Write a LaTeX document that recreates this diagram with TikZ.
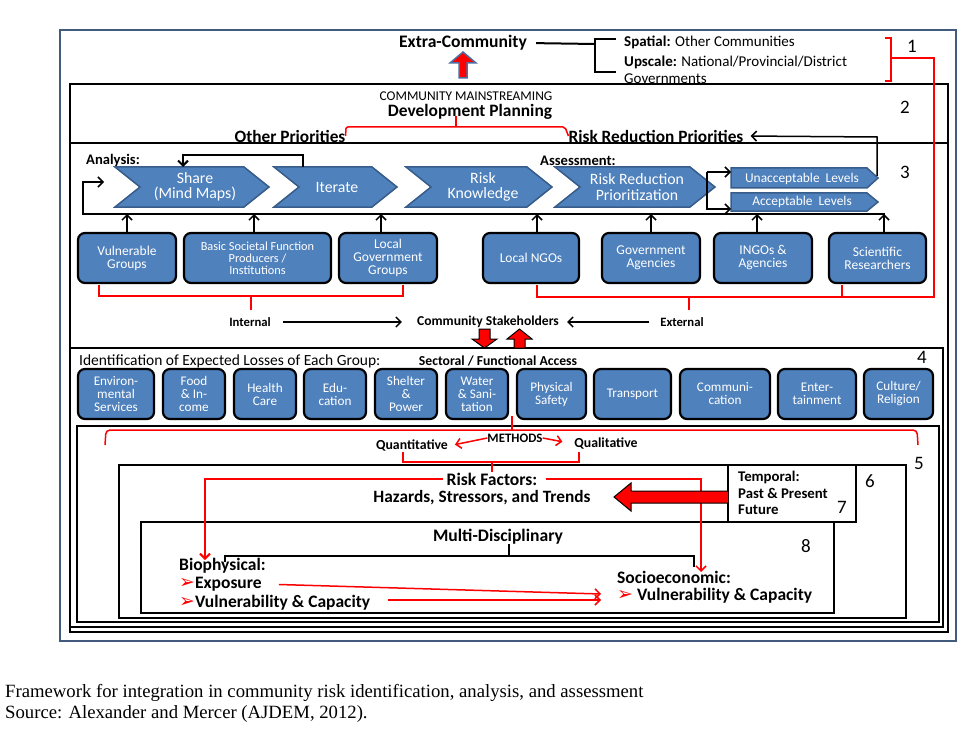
\documentclass[tikz,border=0pt]{standalone}
\usepackage{fontspec}
\setmainfont{Carlito}
\newfontfamily\capfont{Liberation Serif}
\newfontfamily\symfont{DejaVu Sans}
\usetikzlibrary{arrows.meta}
\definecolor{bluef}{RGB}{79,129,189}
\definecolor{blued}{RGB}{56,93,138}
\definecolor{framec}{RGB}{65,90,125}
\definecolor{arrb}{RGB}{79,110,160}
\newcommand\fs[2]{\fontsize{#1}{#2}\selectfont}
\newcommand\bul{{\symfont\color{red}\fs{19}{18}➢}}
\tikzset{
  every node/.style={inner sep=0pt},
  bx/.style={draw=black, line width=2.2pt, fill=bluef, rounded corners=7pt, text=white, align=center, minimum height=50pt, font=\fs{13.2}{13}},
  chevst/.style={fill=bluef, draw=blued, line width=1.5pt},
  redl/.style={draw=red, line width=1.5pt},
  barb/.style={-{Straight Barb[length=5pt,width=10pt]}},
  wt/.style={text=white, align=center},
  num/.style={font=\fs{19}{20}},
  blockarr/.style={fill=red, draw=black, line width=1pt},
}
\begin{document}
\begin{tikzpicture}[x=1pt,y=-1pt]
\useasboundingbox (0,0) rectangle (971,730);
% ---------- frames
\draw[framec,line width=2.2pt] (60,30) rectangle (956,641);
\draw[line width=2pt] (70,84) rectangle (948,632);
\draw[line width=2pt] (70,143) -- (948,143);
\draw[line width=2pt] (70,348) rectangle (943,627);
\draw[line width=2pt] (77,426) rectangle (939,622);
\draw[line width=2pt] (119,465) rectangle (906,618);
\draw[line width=2pt,fill=white] (141,522) rectangle (834,613);
\draw[line width=2pt,fill=white] (728,465) rectangle (856,522);
% ---------- numbers
\node[num] (n1) at (912,46) {1};
\node[num] (n2) at (905,107) {2};
\node[num] (n3) at (905,172) {3};
\node[num] (n4) at (922,357) {4};
\node[num] (n5) at (919,463) {5};
\node[num] (n6) at (870,481) {6};
\node[num] (n7) at (842,507) {7};
\node[num] (n8) at (806,546) {8};
% ---------- level 1
\node[font=\bfseries\fs{17.6}{18}] (extra) at (463,43) {Extra-Community};
\draw[fill=red, draw=arrb, line width=1.5pt] (459,78) -- (459,63) -- (450,63) -- (463,52) -- (476,63) -- (467,63) -- (467,78) -- cycle;
\coordinate (brk) at (595,44);
\draw[line width=2pt,shorten <=9pt] (extra.east) -- (brk);
\draw[line width=2pt] (616,39) -- (595,39) -- (595,72) -- (616,72);
\node[anchor=west, font=\fs{15}{17}] (spatial) at (624,42) {\textbf{Spatial:} Other Communities};
\node[anchor=north west, align=left, font=\fs{15}{17}] (upscale) at (624,55.5) {\textbf{Upscale:} National/Provincial/District\\Governments};
\coordinate (r1) at (934,58);
\draw[redl] (885,38) -- (891,38) -- (891,81) -- (885,81);
\draw[redl] (891,58) -- (r1) -- (934,297) -- (842,297);
% ---------- level 2
\node[font=\fs{13.4}{14}] (cm) at (466,96) {COMMUNITY MAINSTREAMING};
\node[font=\bfseries\fs{17.4}{18}] (dp) at (470,112) {Development Planning};
\node[font=\bfseries\fs{17.3}{18}] (op) at (290,136) {Other Priorities};
\node[font=\bfseries\fs{17.3}{18}] (rrpri) at (656,136) {Risk Reduction Priorities};
\draw[redl, rounded corners=2pt] (op.east) -- (346,127) -- (565,127) -- (rrpri.west);
\draw[redl] (456,127) -- (456,116);
% ---------- level 3
\node[anchor=west, font=\bfseries\fs{14.6}{15}] (an) at (86,161) {Analysis:};
\node[anchor=west, font=\bfseries\fs{14.6}{15}] (as) at (540,161) {Assessment:};
\filldraw[chevst] (115,167) -- (244,167) -- (269,187) -- (244,207) -- (115,207) -- (140,187) -- cycle;
\filldraw[chevst] (274,167) -- (372,167) -- (397,187) -- (372,207) -- (274,207) -- (299,187) -- cycle;
\filldraw[chevst] (406,167) -- (527,167) -- (552,187) -- (527,207) -- (406,207) -- (431,187) -- cycle;
\filldraw[chevst] (555,167) -- (690,167) -- (715,187) -- (690,207) -- (555,207) -- (580,187) -- cycle;
\filldraw[chevst] (731,168) -- (867,168) -- (878,178) -- (867,188) -- (731,188) -- cycle;
\filldraw[chevst] (731,193) -- (867,193) -- (878,202) -- (867,211) -- (731,211) -- cycle;
\node[wt, font=\fs{15.8}{15.5}] (share) at (195,187) {Share\\(Mind Maps)};
\node[wt, font=\fs{15.8}{15.5}] (iter) at (337,187) {Iterate};
\node[wt, font=\fs{15.8}{15.5}] (rk) at (483,187) {Risk\\Knowledge};
\node[wt, font=\fs{15.8}{15.5}] (rrp) at (637,187) {Risk Reduction\\Prioritization};
\node[wt, font=\fs{13.4}{14}] (unacc) at (802,179) {Unacceptable\ \ Levels};
\node[wt, font=\fs{13.4}{14}] (acc) at (802,202) {Acceptable\ \ Levels};
% loops
\coordinate (itop) at (303,167);
\coordinate (stop) at (183,167);
\draw[line width=2pt, barb] (itop) -- (303,155) -- (183,155) -- (stop);
\coordinate (bt) at (707,172);
\coordinate (ua) at (731,172);
\coordinate (aa) at (731,209);
\draw[line width=1.5pt, barb] (bt) -- (ua);
\draw[line width=1.5pt, barb] (bt) -- (707,209) -- (aa);
\coordinate (ut) at (877,176);
\draw[line width=1.5pt, barb, shorten >=7pt] (ut) -- (877,137) -- (rrpri.east);
\coordinate (fbR) at (885,214);
\coordinate (fbL) at (83,214);
\coordinate (fbA) at (104,182);
\draw[line width=1.5pt, barb] (fbR) -- (fbL) -- (83,182) -- (fbA);
% stakeholder boxes
\node[bx, minimum width=98pt, font=\fs{13.5}{13}] (vg) at (127,258) {Vulnerable\\Groups};
\node[bx, minimum width=147pt, font=\fs{12.3}{12}] (bsf) at (257.5,258) {Basic Societal Function\\Producers /\\Institutions};
\node[bx, minimum width=98pt, font=\fs{13.5}{13}] (lg) at (388,258) {Local\\Government\\Groups};
\node[bx, minimum width=96pt, font=\fs{13.5}{13}] (ngo) at (531,258) {Local NGOs};
\node[bx, minimum width=98pt, font=\fs{13.5}{13}] (ga) at (651,258) {Government\\Agencies};
\node[bx, minimum width=98pt, font=\fs{13.5}{13}] (ingo) at (763,258) {INGOs \&\\Agencies};
\node[bx, minimum width=97pt, font=\fs{13.5}{13}] (sr) at (877.5,258) {Scientific\\Researchers};
\foreach \n/\dx in {vg/0, bsf/-3.5, lg/-7, ngo/6, ga/0, ingo/-6, sr/6.5}
  \draw[line width=1.5pt, barb] ([xshift=\dx pt]\n.north) -- ([xshift=\dx pt]\n.north |- fbL);
% braces
\draw[redl] (99,285) -- (99,296) -- (403,296) -- (403,285);
\draw[redl] (251,296) -- (251,310);
\draw[redl] (537,285) -- (537,297) -- (842,297) -- (842,285);
\draw[redl] (689,297) -- (689,310);
\node[font=\bfseries\fs{12.7}{13}] (int) at (250,322) {Internal};
\node[font=\bfseries\fs{13.6}{14}] (cs) at (488,322) {Community Stakeholders};
\node[font=\bfseries\fs{12.7}{13}] (ext) at (682,322) {External};
\draw[line width=1.5pt, barb, shorten <=12pt, shorten >=15pt] (int.east) -- (cs.west);
\draw[line width=1.5pt, barb, shorten <=11pt, shorten >=8pt] (ext.west) -- (cs.east);
\draw[blockarr] (479,329) -- (490,329) -- (490,339) -- (497,339) -- (484.5,348) -- (472,339) -- (479,339) -- cycle;
\draw[blockarr] (514,348) -- (525,348) -- (525,339) -- (532,339) -- (519.5,329) -- (507,339) -- (514,339) -- cycle;
% ---------- level 4
\node[anchor=west, font=\fs{15.5}{16}] (idl) at (79,361) {Identification of Expected Losses of Each Group:};
\node[font=\bfseries\fs{13.7}{14}] (sfa) at (498,361) {Sectoral / Functional Access};
\node[bx, minimum width=76pt] (env) at (116,394) {Environ-\\mental\\Services};
\node[bx, minimum width=62pt] (food) at (194,394) {Food\\\& In-\\come};
\node[bx, minimum width=62pt] (hc) at (265,394) {Health\\Care};
\node[bx, minimum width=62pt] (edu) at (335,394) {Edu-\\cation};
\node[bx, minimum width=62pt] (shp) at (406,394) {Shelter\\\&\\Power};
\node[bx, minimum width=62pt] (wat) at (477,394) {Water\\\& Sani-\\tation};
\node[bx, minimum width=69pt] (ps) at (551.5,394) {Physical\\Safety};
\node[bx, minimum width=77pt] (tr) at (632.5,394) {Transport};
\node[bx, minimum width=90pt] (com) at (725,394) {Communi-\\cation};
\node[bx, minimum width=78pt] (ent) at (817,394) {Enter-\\tainment};
\node[bx, minimum width=69pt] (cul) at (898.5,394) {Culture/\\Religion};
% ---------- level 5
\draw[redl, rounded corners=4pt] (105,445) -- (106,430) -- (917,430) -- (918,445);
\draw[redl] (512,430) -- (512,416);
\node[font=\bfseries\fs{12.9}{13}] (meth) at (515,438) {METHODS};
\node[font=\bfseries\fs{13.8}{14}] (quan) at (412,446) {Quantitative};
\node[font=\bfseries\fs{13.8}{14}] (qual) at (606,444) {Qualitative};
\draw[redl, barb, shorten >=7pt] (meth.west) -- (quan.east);
\draw[redl, barb, shorten >=12pt] (meth.east) -- (qual.west);
\draw[redl] (403,452) -- (403,462) -- (579,462) -- (579,452);
\draw[redl] (492,462) -- (492,472);
% ---------- level 6
\node[font=\bfseries\fs{17.6}{18}] (rf) at (492,479) {Risk Factors:};
\node[font=\bfseries\fs{17.3}{18}] (hz) at (482,498) {Hazards, Stressors, and Trends};
\coordinate (bioA) at (205,560);
\coordinate (socA) at (701,572);
\draw[red, line width=2pt, barb, shorten <=3pt] (rf.west) -- (205,479) -- (bioA);
\draw[redl, barb, shorten <=8pt] (rf.east) -- (701,479) -- (socA);
\draw[blockarr] (728,491) -- (631,491) -- (631,483) -- (614,497) -- (631,511) -- (631,503) -- (728,503);
\node[anchor=north west, align=left, font=\bfseries\fs{14.8}{16.5}] (temp) at (738,471) {Temporal:\\Past \& Present\\Future};
% ---------- level 8
\node[font=\bfseries\fs{17.6}{18}] (md) at (498,537) {Multi-Disciplinary};
\draw[line width=2.5pt] (225,562) -- (225,556) -- (694,556) -- (694,567);
\draw[line width=2.5pt] (509,556) -- (509,544);
\node[anchor=west, font=\bfseries\fs{17.5}{18}] (bio) at (179,566) {Biophysical:};
\node[anchor=west, font=\bfseries\fs{17.5}{18}] (expo) at (179,584) {\bul Exposure};
\node[anchor=west, font=\bfseries\fs{17.5}{18}] (bvc) at (179,603) {\bul Vulnerability \& Capacity};
\node[anchor=west, font=\bfseries\fs{17.5}{18}] (soc) at (617,577) {Socioeconomic:};
\node[anchor=west, font=\bfseries\fs{17.5}{18}] (svc) at (617,596) {\bul\ Vulnerability \& Capacity};
\coordinate (sv1) at (601,594);
\coordinate (sv2) at (601,600);
\draw[redl, barb, shorten <=17pt] (expo.east) -- (sv1);
\draw[redl, barb] (388,600) -- (sv2);
% ---------- caption
\node[anchor=west, font=\capfont\fs{18.7}{20}] (cap1) at (5,693) {Framework for integration in community risk identification, analysis, and assessment};
\node[anchor=west, font=\capfont\fs{18.7}{20}] (cap2) at (5,714) {Source: Alexander and Mercer (AJDEM, 2012).};
\end{tikzpicture}
\end{document}
